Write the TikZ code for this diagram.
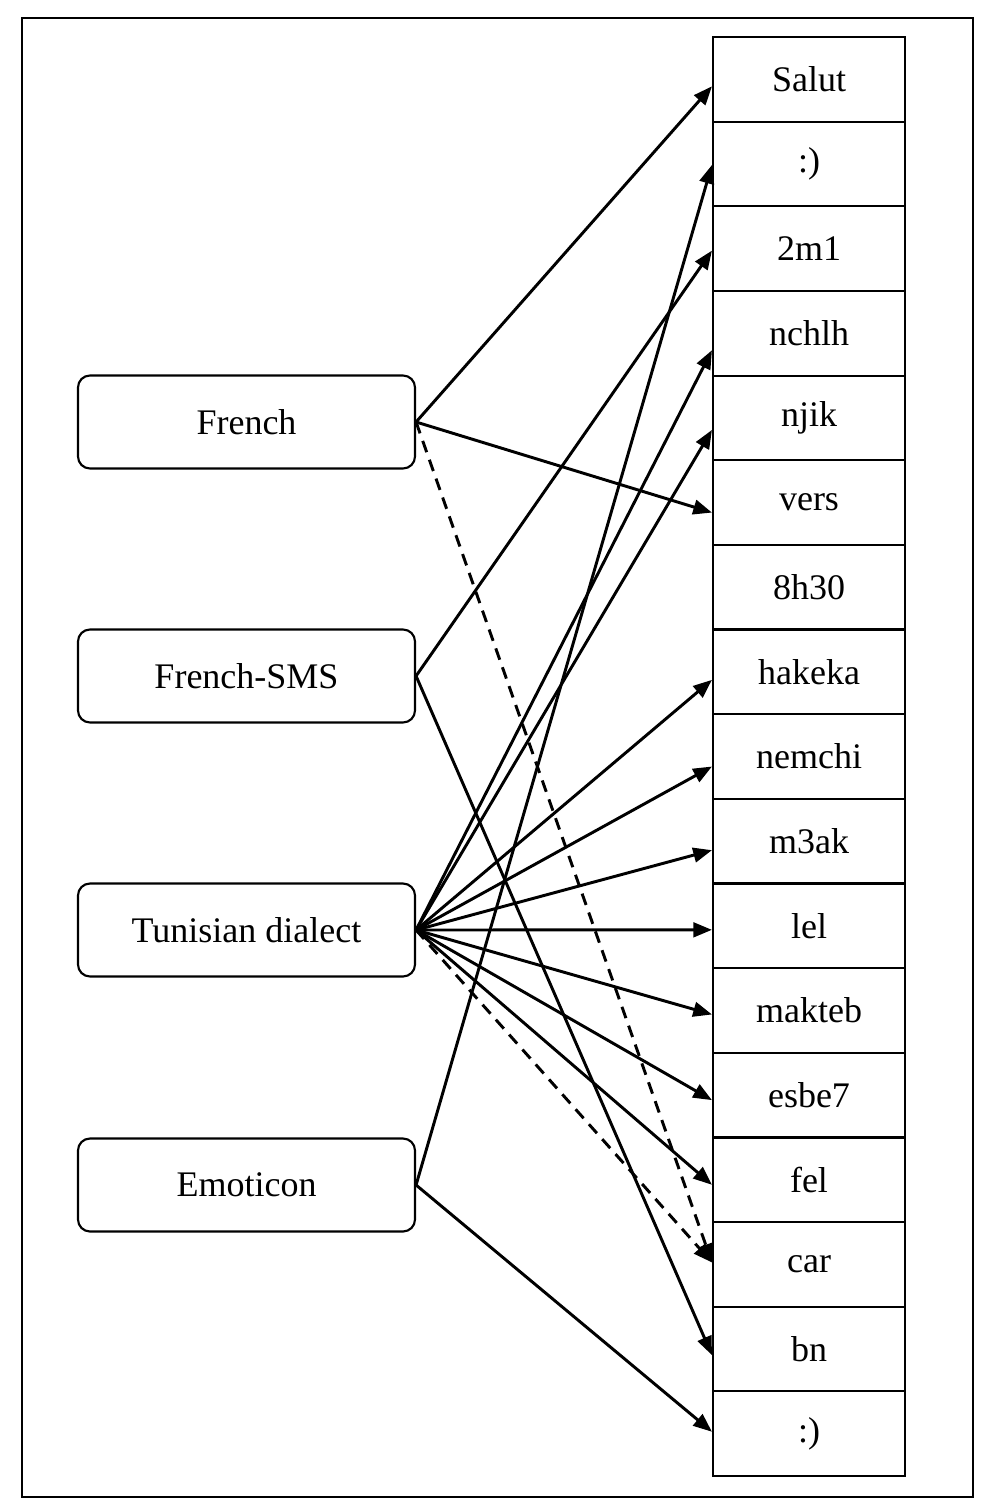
\documentclass[tikz,border=0pt]{standalone}
\usepackage{fontspec}
\setmainfont{Liberation Serif}
\usetikzlibrary{arrows.meta,calc}
\begin{document}
\begin{tikzpicture}[x=0.75pt,y=-0.75pt,
  lab/.style={draw,line width=1.6pt,rounded corners=9pt,minimum width=337*0.75pt,minimum height=93*0.75pt,font=\fontsize{27}{30}\selectfont},
  cell/.style={draw,line width=1.6pt,minimum width=192*0.75pt,minimum height=84.65*0.75pt,font=\fontsize{27}{30}\selectfont},
  ed/.style={line width=2.2pt,-{Triangle[length=14pt,width=11pt]}},
  dd/.style={ed,dash pattern=on 9pt off 6pt}]
\useasboundingbox (0,0) rectangle (983,1506);
\draw[line width=1.6pt] (22,18) rectangle (973,1497);
\node[lab] (fr) at (246.5,422) {French};
\node[lab] (sms) at (246.5,676) {French-SMS};
\node[lab] (tun) at (246.5,930) {Tunisian dialect};
\node[lab] (emo) at (246.5,1185) {Emoticon};
\foreach \t [count=\i from 0] in {Salut,:),2m1,nchlh,njik,vers,8h30,hakeka,nemchi,m3ak,lel,makteb,esbe7,fel,car,bn,:)}
  \node[cell] (c\i) at (809,{37+84.65*(\i+0.5)}) {\t};
\draw[ed] (fr.east) -- ($(c0.west)+(0,7)$);
\draw[ed] (fr.east) -- ($(c5.west)+(0,10)$);
\draw[dd] (fr.east) -- ($(c14.west)+(0,-2)$);
\draw[ed] (sms.east) -- ($(c2.west)+(0,2)$);
\draw[ed] (sms.east) -- ($(c15.west)+(0,6)$);
\draw[ed] (tun.east) -- ($(c3.west)+(0,17)$);
\draw[ed] (tun.east) -- ($(c4.west)+(0,12)$);
\draw[ed] (tun.east) -- ($(c7.west)+(0,8)$);
\draw[ed] (tun.east) -- ($(c8.west)+(0,10)$);
\draw[ed] (tun.east) -- ($(c9.west)+(0,9)$);
\draw[ed] (tun.east) -- ($(c10.west)+(0,4)$);
\draw[ed] (tun.east) -- ($(c11.west)+(0,4)$);
\draw[ed] (tun.east) -- ($(c12.west)+(0,5)$);
\draw[ed] (tun.east) -- ($(c13.west)+(0,5)$);
\draw[dd] (tun.east) -- ($(c14.west)+(0,-2)$);
\draw[ed] (emo.east) -- ($(c1.west)+(0,1)$);
\draw[ed] (emo.east) -- ($(c16.west)+(0,-2)$);
\end{tikzpicture}
\end{document}
